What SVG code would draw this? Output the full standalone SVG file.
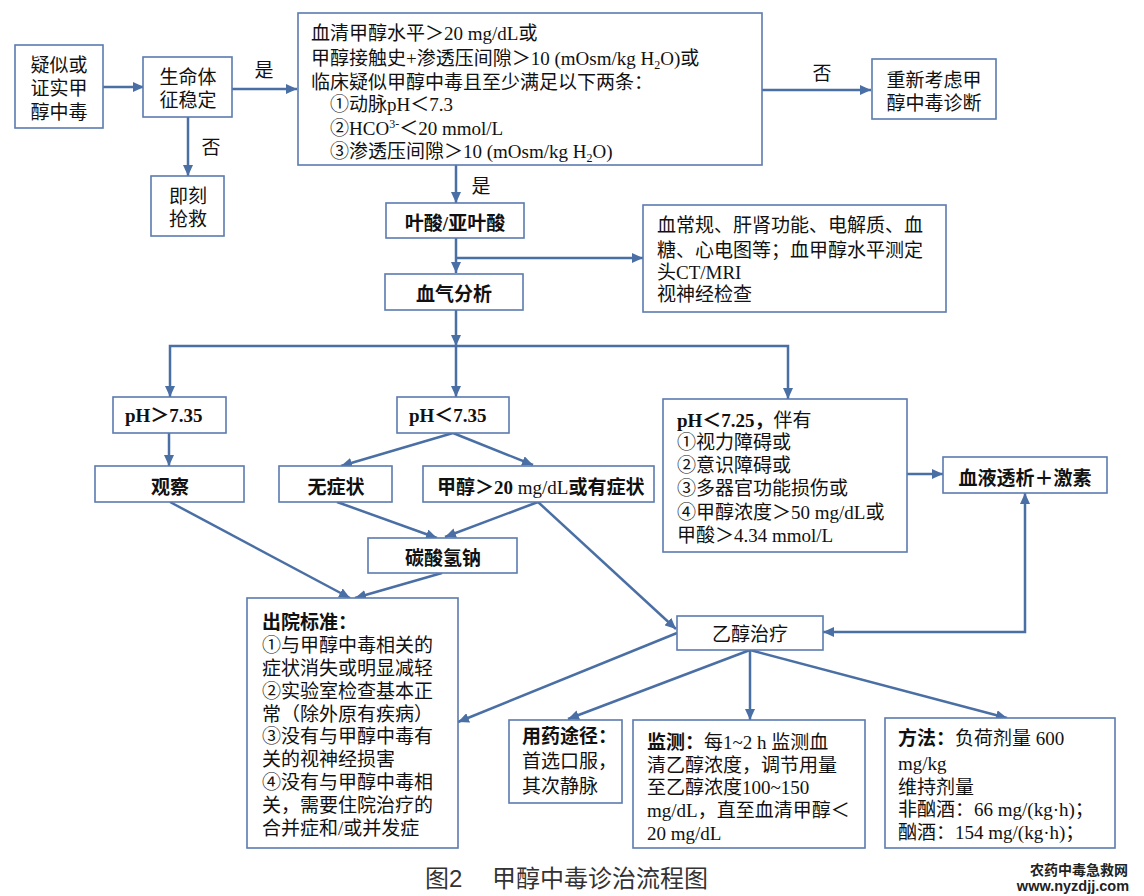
<svg xmlns="http://www.w3.org/2000/svg" width="1144" height="896" viewBox="0 0 1144 896">
<style>
.bx{fill:#fff;stroke:#5b7bb0;stroke-width:1.6}
.ln{fill:none;stroke:#4a6fa5;stroke-width:2.5}
.s{font-family:"Liberation Serif","Noto Sans CJK SC",serif;font-size:19px;fill:#111}
.h{font-family:"Liberation Sans","Noto Sans CJK SC",sans-serif;font-size:19px;fill:#111}
.b{font-weight:bold}
.m{text-anchor:middle}
</style>
<defs>
<marker id="ar" markerUnits="userSpaceOnUse" markerWidth="11" markerHeight="10" refX="11" refY="5" orient="auto-start-reverse">
<path d="M0,0 L11,5 L0,10 z" fill="#4a6fa5"/>
</marker>
</defs>
<rect width="1144" height="896" fill="#fff"/>

<g id="connectors">
<line class="ln" x1="102" y1="87" x2="144" y2="87" marker-end="url(#ar)"/>
<line class="ln" x1="232" y1="89" x2="297" y2="89" marker-end="url(#ar)"/>
<line class="ln" x1="188" y1="117" x2="188" y2="176" marker-end="url(#ar)"/>
<line class="ln" x1="762" y1="90" x2="871" y2="90" marker-end="url(#ar)"/>
<line class="ln" x1="456" y1="165" x2="456" y2="203" marker-end="url(#ar)"/>
<line class="ln" x1="456" y1="238" x2="456" y2="273" marker-end="url(#ar)"/>
<line class="ln" x1="456" y1="258" x2="643" y2="258" marker-end="url(#ar)"/>
<line class="ln" x1="456" y1="310" x2="456" y2="346" marker-end="url(#ar)"/>
<polyline class="ln" points="170,397 170,346 788,346 788,399" marker-start="url(#ar)" marker-end="url(#ar)"/>
<line class="ln" x1="456" y1="346" x2="456" y2="397" marker-end="url(#ar)"/>
<line class="ln" x1="169" y1="433" x2="169" y2="466" marker-end="url(#ar)"/>
<line class="ln" x1="453" y1="433" x2="341" y2="466" marker-end="url(#ar)"/>
<line class="ln" x1="453" y1="433" x2="533" y2="465" marker-end="url(#ar)"/>
<line class="ln" x1="337" y1="502" x2="437" y2="538" marker-end="url(#ar)"/>
<line class="ln" x1="538" y1="502" x2="445" y2="537" marker-end="url(#ar)"/>
<line class="ln" x1="170" y1="502" x2="350" y2="598" marker-end="url(#ar)"/>
<line class="ln" x1="442" y1="573" x2="355" y2="598" marker-end="url(#ar)"/>
<line class="ln" x1="538" y1="502" x2="676" y2="629" marker-end="url(#ar)"/>
<line class="ln" x1="907" y1="474" x2="943" y2="474" marker-end="url(#ar)"/>
<polyline class="ln" points="823,632 1025,632 1025,493" marker-start="url(#ar)" marker-end="url(#ar)"/>
<line class="ln" x1="677" y1="633" x2="458" y2="722" marker-end="url(#ar)"/>
<line class="ln" x1="750" y1="650" x2="568" y2="719" marker-end="url(#ar)"/>
<line class="ln" x1="750" y1="650" x2="750" y2="720" marker-end="url(#ar)"/>
<line class="ln" x1="750" y1="650" x2="1007" y2="718" marker-end="url(#ar)"/>
</g>

<g id="labels">
<text class="h m" x="264" y="77">是</text>
<text class="h m" x="211" y="154">否</text>
<text class="h m" x="822" y="80">否</text>
<text class="h m" x="481" y="193">是</text>
</g>

<g id="n_suspect">
<rect class="bx" x="15" y="45" width="88" height="83"/>
<text class="h m" x="59" y="72">疑似或</text>
<text class="h m" x="59" y="95">证实甲</text>
<text class="h m" x="59" y="119">醇中毒</text>
</g>

<g id="n_vital">
<rect class="bx" x="143" y="57" width="89" height="60"/>
<text class="h m" x="188" y="84">生命体</text>
<text class="h m" x="188" y="107">征稳定</text>
</g>

<g id="n_rescue">
<rect class="bx" x="151" y="176" width="73" height="60"/>
<text class="h m" x="188" y="203">即刻</text>
<text class="h m" x="188" y="226">抢救</text>
</g>

<g id="n_criteria">
<rect class="bx" x="298" y="13" width="464" height="152"/>
<text class="s" x="311" y="40">血清甲醇水平＞20 mg/dL或</text>
<text class="s" x="311" y="65">甲醇接触史+渗透压间隙＞10 (mOsm/kg H<tspan font-size="12" dy="4">2</tspan><tspan dy="-4">O)或</tspan></text>
<text class="s" x="311" y="89">临床疑似甲醇中毒且至少满足以下两条：</text>
<text class="s" x="330" y="111">①动脉pH＜7.3</text>
<text class="s" x="330" y="135">②HCO<tspan font-size="12" dy="-7">3-</tspan><tspan dy="7">＜20 mmol/L</tspan></text>
<text class="s" x="330" y="158">③渗透压间隙＞10 (mOsm/kg H<tspan font-size="12" dy="4">2</tspan><tspan dy="-4">O)</tspan></text>
</g>

<g id="n_reconsider">
<rect class="bx" x="872" y="59" width="124" height="60"/>
<text class="h m" x="934" y="87">重新考虑甲</text>
<text class="h m" x="934" y="110">醇中毒诊断</text>
</g>

<g id="n_folic">
<rect class="bx" x="386" y="203" width="138" height="35"/>
<text class="s b m" x="455" y="230" font-size="20">叶酸/亚叶酸</text>
</g>

<g id="n_tests">
<rect class="bx" x="643" y="205" width="303" height="107"/>
<text class="s" x="657" y="232">血常规、肝肾功能、电解质、血</text>
<text class="s" x="657" y="257">糖、心电图等；血甲醇水平测定</text>
<text class="s" x="657" y="279">头CT/MRI</text>
<text class="s" x="657" y="301">视神经检查</text>
</g>

<g id="n_bloodgas">
<rect class="bx" x="385" y="274" width="138" height="36"/>
<text class="s b m" x="454" y="301">血气分析</text>
</g>

<g id="n_ph_high">
<rect class="bx" x="113" y="397" width="113" height="36"/>
<text class="s b" x="125" y="422">pH＞7.35</text>
</g>

<g id="n_ph_low">
<rect class="bx" x="397" y="397" width="112" height="36"/>
<text class="s b" x="409" y="422">pH＜7.35</text>
</g>

<g id="n_ph_severe">
<rect class="bx" x="663" y="399" width="244" height="153"/>
<text class="s" x="677" y="427"><tspan font-weight="bold">pH＜7.25，</tspan>伴有</text>
<text class="s" x="677" y="449">①视力障碍或</text>
<text class="s" x="677" y="472">②意识障碍或</text>
<text class="s" x="677" y="495">③多器官功能损伤或</text>
<text class="s" x="677" y="519">④甲醇浓度＞50 mg/dL或</text>
<text class="s" x="677" y="542">甲酸＞4.34 mmol/L</text>
</g>

<g id="n_dialysis">
<rect class="bx" x="943" y="457" width="164" height="36"/>
<text class="s b m" x="1025" y="485">血液透析＋激素</text>
</g>

<g id="n_observe">
<rect class="bx" x="95" y="466" width="149" height="36"/>
<text class="s b m" x="170" y="494">观察</text>
</g>

<g id="n_nosymptom">
<rect class="bx" x="279" y="466" width="113" height="36"/>
<text class="s b m" x="336" y="494">无症状</text>
</g>

<g id="n_methanol">
<rect class="bx" x="423" y="466" width="231" height="36"/>
<text class="s" x="437" y="494"><tspan font-weight="bold">甲醇＞20</tspan> mg/dL<tspan font-weight="bold">或有症状</tspan></text>
</g>

<g id="n_bicarb">
<rect class="bx" x="368" y="538" width="149" height="35"/>
<text class="s b m" x="443" y="565">碳酸氢钠</text>
</g>

<g id="n_discharge">
<rect class="bx" x="247" y="598" width="211" height="250"/>
<text class="s b" x="262" y="629">出院标准：</text>
<text class="s" x="262" y="652">①与甲醇中毒相关的</text>
<text class="s" x="262" y="675">症状消失或明显减轻</text>
<text class="s" x="262" y="698">②实验室检查基本正</text>
<text class="s" x="262" y="721">常（除外原有疾病）</text>
<text class="s" x="262" y="743">③没有与甲醇中毒有</text>
<text class="s" x="262" y="766">关的视神经损害</text>
<text class="s" x="262" y="789">④没有与甲醇中毒相</text>
<text class="s" x="262" y="812">关，需要住院治疗的</text>
<text class="s" x="262" y="835">合并症和/或并发症</text>
</g>

<g id="n_ethanol">
<rect class="bx" x="677" y="616" width="146" height="34"/>
<text class="s m" x="750" y="641">乙醇治疗</text>
</g>

<g id="n_route">
<rect class="bx" x="509" y="720" width="113" height="83"/>
<text class="s b" x="522" y="743">用药途径：</text>
<text class="s" x="522" y="768">首选口服，</text>
<text class="s" x="522" y="793">其次静脉</text>
</g>

<g id="n_monitor">
<rect class="bx" x="633" y="720" width="232" height="128"/>
<text class="s" x="647" y="749"><tspan font-weight="bold">监测：</tspan>每1~2 h 监测血</text>
<text class="s" x="647" y="772">清乙醇浓度，调节用量</text>
<text class="s" x="647" y="794">至乙醇浓度100~150</text>
<text class="s" x="647" y="817">mg/dL，直至血清甲醇＜</text>
<text class="s" x="647" y="840">20 mg/dL</text>
</g>

<g id="n_method">
<rect class="bx" x="885" y="718" width="230" height="130"/>
<text class="s" x="898" y="745"><tspan font-weight="bold">方法：</tspan>负荷剂量 600</text>
<text class="s" x="898" y="770">mg/kg</text>
<text class="s" x="898" y="794">维持剂量</text>
<text class="s" x="898" y="816">非酗酒：66 mg/(kg·h)；</text>
<text class="s" x="898" y="839">酗酒：154 mg/(kg·h)；</text>
</g>

<g id="caption">
<text x="425" y="887" font-family="'Liberation Sans','Noto Sans CJK SC',sans-serif" font-size="24" fill="#333">图2</text>
<text x="492" y="887" font-family="'Liberation Sans','Noto Sans CJK SC',sans-serif" font-size="24" fill="#333">甲醇中毒诊治流程图</text>
<text x="1079" y="875" text-anchor="middle" font-family="'Liberation Sans','Noto Sans CJK SC',sans-serif" font-size="14" font-weight="bold" fill="#222">农药中毒急救网</text>
<text x="1073" y="891" text-anchor="middle" font-family="'Liberation Sans',sans-serif" font-size="14.5" font-weight="bold" fill="#222">www.nyzdjj.com</text>
</g>
</svg>
